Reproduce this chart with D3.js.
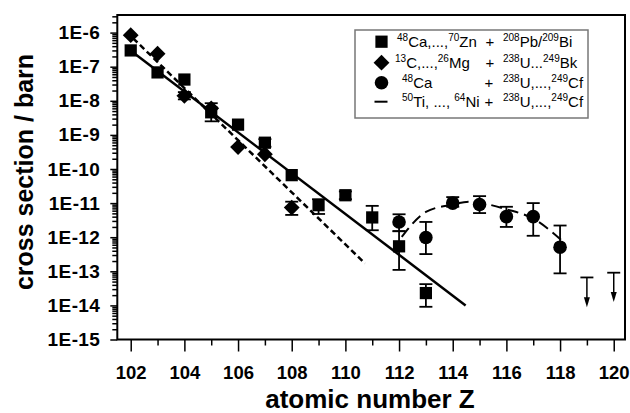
<!DOCTYPE html>
<html><head><meta charset="utf-8">
<script src="https://cdn.jsdelivr.net/npm/d3@7/dist/d3.min.js"></script>
<style>html,body{margin:0;padding:0;background:#fff;} svg{display:block;}</style>
</head><body><svg id="c" width="630" height="413"></svg>
<script>
// ---------- data ----------
const xTickValues = [102,104,106,108,110,112,114,116,118,120];
const xMinorValues = [103,105,107,109,111,113,115,117,119];
const yTickValues = [1e-6,1e-7,1e-8,1e-9,1e-10,1e-11,1e-12,1e-13,1e-14,1e-15];
const yTickLabels = ["1E-6","1E-7","1E-8","1E-9","1E-10","1E-11","1E-12","1E-13","1E-14","1E-15"];

// squares: 48Ca,...,70Zn + 208Pb/209Bi
const sqZ   = [102,103,104,105,106,107,108,109,110,111,112,113];
const sqVal = [3.0e-7,6.8e-8,4.2e-8,4.6e-9,2.0e-9,5.9e-10,6.6e-11,8.7e-12,1.7e-11,3.8e-12,5.4e-13,2.3e-14];
const sqLo  = [null,null,null,2.5e-9,null,4.5e-10,null,4.8e-12,1.3e-11,1.6e-12,1.1e-13,9.1e-15];
const sqHi  = [null,null,null,8.5e-9,null,7.5e-10,null,1.3e-11,2.2e-11,8.3e-12,1.5e-12,4.2e-14];

// diamonds: 13C,...,26Mg + 238U...249Bk
const dmZ   = [102,103,104,105,106,107,108];
const dmVal = [8.4e-7,2.4e-7,1.4e-8,6.0e-9,4.4e-10,2.7e-10,7.4e-12];
const dmLo  = [null,null,1.1e-8,null,null,null,4.5e-12];
const dmHi  = [null,null,1.8e-8,null,null,null,1.1e-11];

// circles: 48Ca + 238U,...,249Cf
const ciZ   = [112,113,114,115,116,117,118];
const ciVal = [2.8e-12,9.8e-13,1.0e-11,9.1e-12,4.0e-12,4.0e-12,5.1e-13];
const ciLo  = [1.5e-12,3.2e-13,7.8e-12,5.1e-12,2.0e-12,1.1e-12,8.7e-14];
const ciHi  = [4.7e-12,2.8e-12,1.5e-11,1.6e-11,7.8e-12,1.0e-11,2.2e-12];

// upper limits (50Ti,...,64Ni + 238U,...,249Cf)
const limZ   = [119,120];
const limTop = [6.6e-14,9.1e-14];
const limTip = [8.9e-15,1.26e-14];

// fit lines
const fitSolidZ = [102.09,114.48];
const fitSolidVal = [2.6e-7,1.0e-14];
const fitDashZ = [102.09,110.73];
const fitDashVal = [6.8e-7,1.7e-13];
const curveZ   = [112.1,113,114,114.6,115,116,117,118.06];
const curveVal = [1.02e-12,5.5e-12,9.1e-12,1.1e-11,1.02e-11,6.6e-12,3.5e-12,8.1e-13];

// legend
const legendRows = [
  {sym:"square",  a:[["48",1],["Ca,...,",0],["70",1],["Zn",0]], ax:397, px:490, b:[["208",1],["Pb/",0],["209",1],["Bi",0]]},
  {sym:"diamond", a:[["13",1],["C,...,",0],["26",1],["Mg",0]], ax:395, px:490, b:[["238",1],["U...",0],["249",1],["Bk",0]]},
  {sym:"circle",  a:[["48",1],["Ca",0]], ax:402, px:489, b:[["238",1],["U,...,",0],["249",1],["Cf",0]]},
  {sym:"line",    a:[["50",1],["Ti, ..., ",0],["64",1],["Ni",0]], ax:402, px:489, b:[["238",1],["U,...,",0],["249",1],["Cf",0]]}
];

// ---------- drawing ----------
const svg = d3.select("#c");
const FONT = "Arial, 'Liberation Sans', sans-serif";
const L=117.3, R=625, T=15, B=339.5;
const x = d3.scaleLinear().domain([101.5,120.42]).range([L,R]);
const y = d3.scaleLog().domain([1e-15, Math.pow(10,-5.484)]).range([B,T]);

// axes
const minorY = [];
for (let e=-15; e<=-6; e++) for (let m=2; m<=9; m++){ const v=m*Math.pow(10,e); if (v<=y.domain()[1]) minorY.push(v); }

const gyMinor = svg.append("g").attr("transform",`translate(${L},0)`)
  .call(d3.axisLeft(y).tickValues(minorY).tickSize(5).tickFormat(""));
const gy = svg.append("g").attr("transform",`translate(${L},0)`)
  .call(d3.axisLeft(y).tickValues(yTickValues).tickSize(7).tickPadding(10).tickFormat((d,i)=>yTickLabels[i]));
const gxMinor = svg.append("g").attr("transform",`translate(0,${B})`)
  .call(d3.axisBottom(x).tickValues(xMinorValues).tickSize(6).tickFormat(""));
const gx = svg.append("g").attr("transform",`translate(0,${B})`)
  .call(d3.axisBottom(x).tickValues(xTickValues).tickSize(12).tickPadding(14).tickFormat(d3.format("d")));
[gyMinor,gy,gxMinor,gx].forEach(g=>{
  g.select(".domain").remove();
  g.selectAll(".tick line").attr("stroke","#000").attr("stroke-width",1.5);
  g.selectAll(".tick text").attr("fill","#000").attr("font-family",FONT).attr("font-weight","bold").attr("font-size",18.5);
});
gy.selectAll(".tick text").attr("font-size",19).attr("letter-spacing","0.4px");

// frame
svg.append("rect").attr("x",L).attr("y",T).attr("width",R-L).attr("height",B-T)
  .attr("fill","none").attr("stroke","#000").attr("stroke-width",2);

// titles
svg.append("text").attr("x",370).attr("y",408).attr("text-anchor","middle")
  .attr("font-family",FONT).attr("font-weight","bold").attr("font-size",26).text("atomic number Z");
svg.append("text").attr("transform","translate(33,172) rotate(-90)").attr("text-anchor","middle")
  .attr("font-family",FONT).attr("font-weight","bold").attr("font-size",25).text("cross section / barn");

// fit lines
const line = d3.line().x(d=>x(d[0])).y(d=>y(d[1]));
svg.append("path").attr("d",line(d3.zip(fitSolidZ,fitSolidVal))).attr("fill","none").attr("stroke","#000").attr("stroke-width",2.5);
svg.append("path").attr("d",line(d3.zip(fitDashZ,fitDashVal))).attr("fill","none").attr("stroke","#000").attr("stroke-width",2.5).attr("stroke-dasharray","6,3.5");
svg.append("path").attr("d",d3.line().x(d=>x(d[0])).y(d=>y(d[1])).curve(d3.curveMonotoneX)(d3.zip(curveZ,curveVal)))
  .attr("fill","none").attr("stroke","#000").attr("stroke-width",2).attr("stroke-dasharray","11,6");

// error bars
function errBars(Z,lo,hi){
  const g = svg.append("g").attr("stroke","#000").attr("stroke-width",1.8).attr("fill","none");
  Z.forEach((z,i)=>{
    if (lo[i]==null) return;
    const cx=x(z), y1=y(hi[i]), y2=y(lo[i]);
    g.append("line").attr("x1",cx).attr("x2",cx).attr("y1",y1).attr("y2",y2);
    g.append("line").attr("x1",cx-6.5).attr("x2",cx+6.5).attr("y1",y1).attr("y2",y1);
    g.append("line").attr("x1",cx-6.5).attr("x2",cx+6.5).attr("y1",y2).attr("y2",y2);
  });
}
errBars(sqZ,sqLo,sqHi);
errBars(dmZ,dmLo,dmHi);
errBars(ciZ,ciLo,ciHi);

// markers
const symSq = d3.symbol().type(d3.symbolSquare).size(150);
const symDm = d3.symbol().type(d3.symbolDiamond2).size(160);
const symCi = d3.symbol().type(d3.symbolCircle).size(145);
svg.append("g").selectAll("path").data(d3.zip(sqZ,sqVal)).join("path")
  .attr("d",symSq).attr("transform",d=>`translate(${x(d[0])},${y(d[1])})`).attr("fill","#000");
svg.append("g").selectAll("path").data(d3.zip(dmZ,dmVal)).join("path")
  .attr("d",symDm).attr("transform",d=>`translate(${x(d[0])},${y(d[1])})`).attr("fill","#000");
svg.append("g").selectAll("path").data(d3.zip(ciZ,ciVal)).join("path")
  .attr("d",symCi).attr("transform",d=>`translate(${x(d[0])},${y(d[1])})`).attr("fill","#000");

// upper-limit arrows
const gl = svg.append("g");
limZ.forEach((z,i)=>{
  const cx=x(z), yt=y(limTop[i]), yb=y(limTip[i]);
  gl.append("line").attr("x1",cx-6.5).attr("x2",cx+6.5).attr("y1",yt).attr("y2",yt).attr("stroke","#000").attr("stroke-width",1.8);
  gl.append("line").attr("x1",cx).attr("x2",cx).attr("y1",yt).attr("y2",yb-8).attr("stroke","#000").attr("stroke-width",1.5);
  gl.append("path").attr("d",`M${cx-3},${yb-10}L${cx+3},${yb-10}L${cx},${yb}Z`).attr("fill","#000");
});

// legend
const lg = svg.append("g");
lg.append("rect").attr("x",355).attr("y",30).attr("width",233).attr("height",88)
  .attr("fill","#fff").attr("stroke","#777").attr("stroke-width",1.5);
const rowY = [41.7,62.7,82.7,101.7];
legendRows.forEach((r,i)=>{
  const cy=rowY[i], sx=381.5;
  if (r.sym==="square") lg.append("path").attr("d",symSq).attr("transform",`translate(${sx},${cy})`);
  if (r.sym==="diamond") lg.append("path").attr("d",symDm).attr("transform",`translate(${sx},${cy})`);
  if (r.sym==="circle") lg.append("path").attr("d",symCi).attr("transform",`translate(${sx},${cy})`);
  if (r.sym==="line") lg.append("line").attr("x1",sx-7).attr("x2",sx+6).attr("y1",cy).attr("y2",cy).attr("stroke","#000").attr("stroke-width",2);
  const base = cy+5.5;
  function txt(parts,x0){
    const t = lg.append("text").attr("x",x0).attr("y",base).attr("font-family",FONT).attr("font-size",15).attr("fill","#000");
    parts.forEach((p,k)=>{
      if (p[1]) t.append("tspan").attr("font-size",10).attr("dy",-6).text(p[0]);
      else t.append("tspan").attr("font-size",15).attr("dy",k===0?0:6).text(p[0]);
    });
  }
  txt(r.a, r.ax);
  lg.append("text").attr("x",r.px).attr("y",base).attr("text-anchor","middle").attr("font-family",FONT).attr("font-size",15).text("+");
  txt(r.b, 503);
});
</script></body></html>
